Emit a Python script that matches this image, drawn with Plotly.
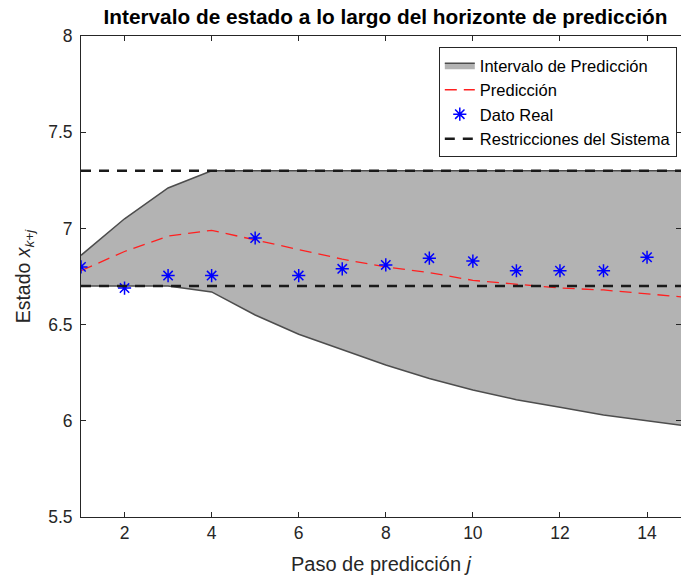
import plotly.graph_objects as go

# Prediction horizon steps
steps = list(range(1, 16))

# Prediction interval bounds
upper = [6.86, 7.05, 7.21, 7.30, 7.30, 7.30, 7.30, 7.30, 7.30, 7.30, 7.30, 7.30, 7.30, 7.30, 7.30]
lower = [6.70, 6.70, 6.70, 6.67, 6.55, 6.45, 6.37, 6.29, 6.22, 6.16, 6.11, 6.07, 6.03, 6.00, 5.97]

# Predicted state trajectory
prediction = [6.78, 6.88, 6.96, 6.99, 6.94, 6.89, 6.84, 6.80, 6.77, 6.73, 6.71, 6.69, 6.68, 6.66, 6.64]

# Measured state
real_steps = list(range(1, 15))
real = [6.80, 6.69, 6.755, 6.755, 6.95, 6.755, 6.79, 6.81, 6.845, 6.83, 6.78, 6.78, 6.78, 6.85]

# System constraints
x_max = 7.3
x_min = 6.7

FONT = "Liberation Sans"

fig = go.Figure()

fig.add_trace(go.Scatter(
    x=steps + steps[::-1], y=upper + lower[::-1],
    fill="toself", fillcolor="#b3b3b3",
    line=dict(color="#4d4d4d", width=1.5),
    mode="lines", name="Intervalo de Predicción",
))

fig.add_trace(go.Scatter(
    x=steps, y=prediction, mode="lines",
    line=dict(color="#ff2020", width=1.3, dash="12px,7px"),
    name="Predicción",
))

fig.add_trace(go.Scatter(
    x=real_steps, y=real, mode="markers",
    marker=dict(symbol="asterisk", size=11, color="#0000ff",
                line=dict(color="#0000ff", width=1.5)),
    name="Dato Real",
))

fig.add_trace(go.Scatter(
    x=[steps[0], steps[-1]], y=[x_max, x_max], mode="lines",
    line=dict(color="#1a1a1a", width=2.5, dash="10px,8px"),
    name="Restricciones del Sistema",
))
fig.add_trace(go.Scatter(
    x=[steps[0], steps[-1]], y=[x_min, x_min], mode="lines",
    line=dict(color="#1a1a1a", width=2.5, dash="10px,8px"),
    showlegend=False,
))

axis_common = dict(
    showline=True, linecolor="#262626", linewidth=1, mirror="ticks",
    ticks="inside", ticklen=5, tickcolor="#262626", showgrid=False,
    zeroline=False, tickfont=dict(family=FONT, size=17.5, color="#262626"),
)

fig.update_layout(
    width=681, height=579,
    margin=dict(l=81, r=0, t=36, b=62),
    paper_bgcolor="white", plot_bgcolor="white",
    font=dict(family=FONT, color="#262626"),
    title=dict(
        text="<b>Intervalo de estado a lo largo del horizonte de predicción</b>",
        x=0.566, xanchor="center", y=0.971, yanchor="middle",
        font=dict(family=FONT, size=20.8, color="black"),
    ),
    xaxis=dict(
        range=[1, 14.78], tickvals=[2, 4, 6, 8, 10, 12, 14],
        title=dict(text="Paso de predicción <i>j</i>", font=dict(family=FONT, size=20), standoff=14),
        **axis_common,
    ),
    yaxis=dict(
        range=[5.5, 8], tickvals=[5.5, 6, 6.5, 7, 7.5, 8],
        ticktext=["5.5", "6", "6.5", "7", "7.5", "8"],
        ticklabelstandoff=4,
        title=dict(text="Estado <i>x</i><sub><i>k+j</i></sub>", font=dict(family=FONT, size=19.5), standoff=12),
        **axis_common,
    ),
    legend=dict(
        x=0.993, y=0.977, xanchor="right", yanchor="top",
        bgcolor="white", bordercolor="#262626", borderwidth=1,
        font=dict(family=FONT, size=16.5, color="black"),
        tracegroupgap=0, itemwidth=30,
    ),
)

fig.write_html("out.html")
